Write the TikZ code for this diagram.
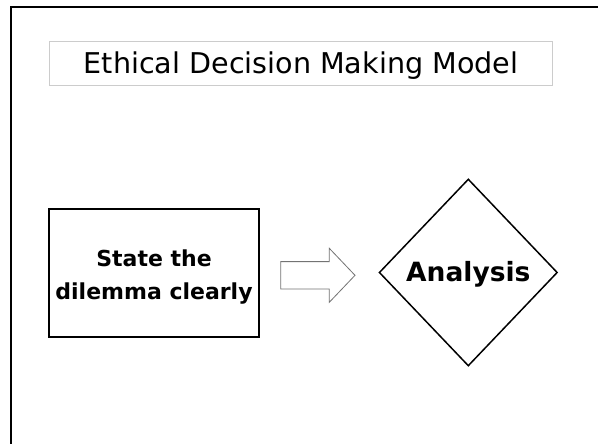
\documentclass[tikz,border=0pt]{standalone}
\usepackage{fontspec}
\setmainfont{DejaVu Sans}
\usetikzlibrary{shapes.geometric}
\tikzset{
  titlebox/.style={draw=black!20, line width=0.8pt, minimum width=503.7pt, minimum height=44pt, inner sep=0pt,
    font=\fontsize{28.6}{34}\selectfont, text height=25.4pt, text depth=4.6pt},
  stepbox/.style={draw=black, line width=1.5pt, minimum width=209.7pt, minimum height=128pt, inner sep=0pt},
  decision/.style={diamond, draw=black, line width=1.5pt, minimum width=178.3pt, minimum height=187pt, inner sep=0pt},
  steptext/.style={anchor=base, align=center, font=\fontsize{22}{33}\selectfont\bfseries},
  dectext/.style={anchor=base, font=\fontsize{26.5}{32}\selectfont\bfseries},
  blockarrow/.style={draw=black!55, line width=0.8pt, fill=white}
}
\begin{document}
\begin{tikzpicture}[x=1pt,y=-1pt]
\useasboundingbox (0,0) rectangle (598,444);
\clip (0,0) rectangle (598,444);
\fill[white] (0,0) rectangle (598,444);
\draw[line width=2pt] (11,7.5) rectangle (620,470);
\node[titlebox] (title) at (301,63) {Ethical Decision Making Model};
\node[stepbox] (state) at (154,273) {};
\node[steptext] (statetext) at (154,299) {State the\\dilemma clearly};
\node[decision] (analysis) at (468.3,272.5) {};
\node[dectext] (analysistext) at (468.3,281.7) {Analysis};
\draw[blockarrow] (280.7,261.6) -- (329.3,261.6) -- (329.3,248.3) -- (355,275.3)
  -- (329.3,302.3) -- (329.3,289) -- (280.7,289) -- cycle;
\end{tikzpicture}
\end{document}
